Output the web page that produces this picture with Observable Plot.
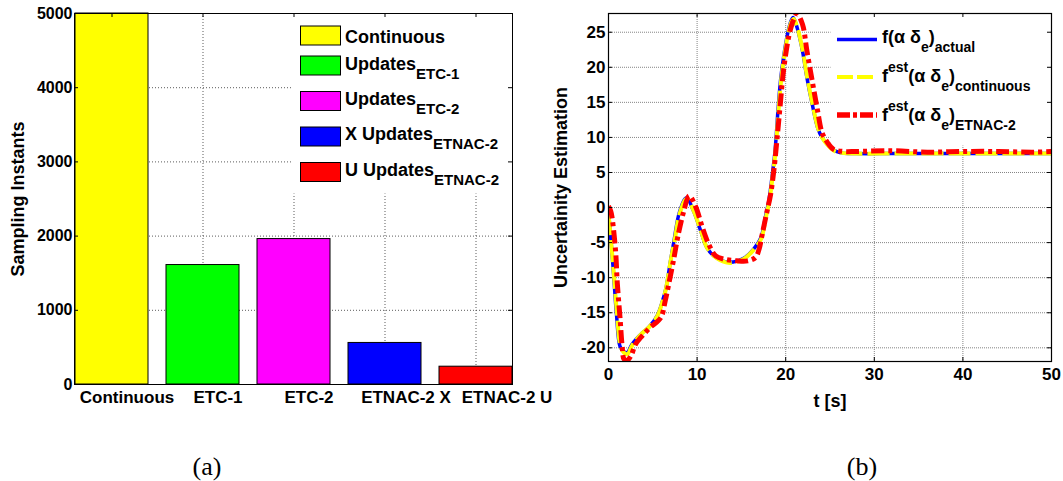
<!DOCTYPE html>
<html><head><meta charset="utf-8">
<script src="https://cdn.jsdelivr.net/npm/d3@7"></script>
<script src="https://cdn.jsdelivr.net/npm/@observablehq/plot@0.6"></script>
<style>
body{margin:0;background:#fff;}
#wrap{position:relative;width:1063px;height:481px;overflow:hidden;background:#fff;font-family:"Liberation Sans",Arial,sans-serif;}
#left{position:absolute;left:0;top:0;}
#right{position:absolute;left:540px;top:0;}
#overlay{position:absolute;left:0;top:0;pointer-events:none;}
</style></head><body>
<div id="wrap"><div id="left"></div><div id="right"></div><svg id="overlay" width="1063" height="481"></svg></div>
<script>
// ---------- (a) bar chart data ----------
const categories = ["Continuous", "ETC-1", "ETC-2", "ETNAC-2 X", "ETNAC-2 U"];
const counts = [5000, 1610, 1960, 560, 240];
const barColors = ["#ffff00", "#00ff00", "#ff00ff", "#0000ff", "#ff0000"];
const countTicks = [0, 1000, 2000, 3000, 4000, 5000];
const legendMainA = ["Continuous", "Updates", "Updates", "X Updates", "U Updates"];
const legendSubA = ["", "ETC-1", "ETC-2", "ETNAC-2", "ETNAC-2"];

// ---------- (b) line chart data ----------
const tActual = [0, 0.4, 0.6, 0.9, 1.3, 1.7, 2.1, 2.6, 3.1, 3.8, 4.6, 5.5, 6.1, 6.5, 7.0, 7.4, 8.0, 8.8, 9.6, 10.4, 11.1, 12.1, 13.6, 15.3, 16.4, 17.2, 17.7, 18.1, 18.5, 18.8, 19.15, 19.45, 19.8, 20.2, 20.6, 20.85, 21.3, 21.9, 22.4, 23.0, 23.6, 24.1, 24.7, 25.4, 26.2, 28, 32, 36, 40, 44, 48, 50];
const vActual = [-0.5, -6.6, -10, -15.2, -19.8, -20.5, -20.7, -19.6, -18.8, -17.9, -17.0, -15.4, -13.3, -11.4, -7.6, -4.7, -0.7, 1.4, -0.5, -3.3, -5.7, -7.1, -7.8, -7.2, -5.9, -4.3, -1.4, 1.0, 4.8, 8.1, 14.2, 18.5, 21.8, 24.7, 26.6, 27.1, 25.6, 22.3, 18.5, 14.7, 11.4, 10.0, 9.0, 8.2, 7.8, 7.7, 7.7, 7.7, 7.7, 7.7, 7.7, 7.7];
const tCont = [0, 0.4, 0.65, 0.95, 1.35, 1.75, 2.15, 2.65, 3.1, 3.8, 4.6, 5.5, 6.1, 6.5, 7.0, 7.45, 8.05, 8.85, 9.65, 10.45, 11.15, 12.2, 13.7, 15.3, 16.4, 17.25, 17.75, 18.15, 18.55, 18.85, 19.2, 19.5, 19.85, 20.25, 20.65, 20.9, 21.35, 21.95, 22.45, 23.05, 23.65, 24.15, 24.75, 25.45, 26.3, 28, 32, 36, 40, 44, 48, 50];
const vCont = [-0.8, -6.4, -10.2, -15.0, -19.7, -20.7, -20.9, -19.7, -18.9, -17.9, -17.0, -15.5, -13.4, -11.5, -7.7, -4.8, -0.8, 1.3, -0.6, -3.4, -5.8, -7.2, -7.9, -7.3, -6.0, -4.4, -1.5, 0.9, 4.7, 8.0, 14.0, 18.3, 21.7, 24.6, 26.5, 26.9, 25.5, 22.2, 18.4, 14.6, 11.3, 9.9, 8.9, 8.1, 7.8, 7.7, 7.7, 7.7, 7.7, 7.7, 7.7, 7.7];
const tEtnac = [0, 0.25, 0.4, 0.8, 1.0, 1.3, 1.55, 1.75, 2.1, 2.55, 3.05, 3.8, 4.7, 5.9, 6.4, 6.8, 7.4, 7.8, 8.5, 9.1, 9.8, 10.6, 11.3, 12.1, 13.0, 14.5, 15.7, 16.6, 17.0, 17.35, 17.9, 18.3, 18.7, 19.0, 19.35, 19.8, 20.4, 20.9, 21.3, 21.9, 22.4, 23.0, 23.6, 24.1, 24.7, 25.4, 26.5, 28, 32, 36, 40, 44, 48, 50];
const vEtnac = [0.2, -0.5, -1.4, -6.2, -10.9, -15.7, -19.9, -21.6, -21.8, -21.1, -19.5, -18.3, -17.1, -15.7, -13.3, -10.9, -7.1, -4.3, -0.5, 1.67, 0.24, -2.85, -5.2, -6.9, -7.35, -7.6, -7.6, -7.1, -5.9, -3.8, -0.5, 1.9, 5.7, 9.5, 14.2, 20, 24.7, 26.8, 27.6, 26.1, 22.3, 18, 13.8, 10.7, 9.3, 8.3, 8.0, 8.0, 8.1, 7.9, 8.0, 8.0, 7.9, 8.0];
const tTicks = [0, 10, 20, 30, 40, 50];
const vTicks = [-20, -15, -10, -5, 0, 5, 10, 15, 20, 25];
const lineColors = ["#0000ff", "#ffff00", "#ff0000"];

const font = "'Liberation Sans', Arial, sans-serif";

// ---------- (a) ----------
const barData = categories.map((c, i) => ({cat: c, n: counts[i], color: barColors[i]}));
const Wa = 540, Ha = 420, mLa = 74, mRa = 28, mTa = 13, mBa = 36;
const iWa = Wa - mLa - mRa, iHa = Ha - mTa - mBa;
const gridStyle = {stroke: "#333", strokeOpacity: 0.8, strokeDasharray: "1,2"};
const xLabelStyle = {tickSize: 0, tickPadding: 6, fontSize: 17, fontWeight: "bold", label: null};
const plotA = Plot.plot({
  width: Wa, height: Ha, marginLeft: mLa, marginRight: mRa, marginTop: mTa, marginBottom: mBa,
  style: {fontFamily: font, background: "transparent", color: "#000", overflow: "visible"},
  x: {domain: categories, paddingInner: 0.2, paddingOuter: 0, axis: null},
  y: {domain: [0, 5000], axis: null},
  marks: [
    Plot.gridY(countTicks.slice(1, -1), gridStyle),
    Plot.gridX(categories, gridStyle),
    Plot.frame({fill: "white", stroke: null, insetLeft: 217, insetBottom: 191, insetTop: 1, insetRight: 1}),
    Plot.barY(barData, {x: "cat", y: "n", fill: "color", stroke: "#000", strokeWidth: 1}),
    Plot.tickY(countTicks, {y: d => d, insetLeft: iWa - 4, stroke: "#000"}),
    Plot.tickY(countTicks, {y: d => d, insetRight: iWa - 4, stroke: "#000"}),
    Plot.tickX(categories, {x: d => d, insetBottom: iHa - 4, stroke: "#000"}),
    Plot.frame({stroke: "#000", strokeWidth: 1}),
    Plot.axisY(countTicks, {tickSize: 0, tickPadding: 2, fontSize: 16, fontWeight: "bold", tickFormat: d => String(d), label: null}),
    Plot.axisX(categories.slice(0, 3), {...xLabelStyle, dx: 15}),
    Plot.axisX(categories.slice(3, 4), {...xLabelStyle, dx: 21}),
    Plot.axisX(categories.slice(4), {...xLabelStyle, dx: 31}),
    Plot.text(["Sampling Instants"], {frameAnchor: "left", text: d => d, rotate: -90, dx: -56, textAnchor: "middle", fontSize: 18, fontWeight: "bold"})
  ]
});
document.getElementById("left").appendChild(plotA);

// ---------- (b) ----------
const toSeries = (ts, vs) => ts.map((t, i) => ({t, v: vs[i]}));
const sActual = toSeries(tActual, vActual);
const sCont = toSeries(tCont, vCont);
const sEtnac = toSeries(tEtnac, vEtnac);
const Wb = 523, Hb = 420, mLb = 68, mRb = 12, mTb = 13, mBb = 59;
const iWb = Wb - mLb - mRb, iHb = Hb - mTb - mBb;
const gridB = {stroke: "#777", strokeOpacity: 0.9, strokeDasharray: "1,1"};
const plotB = Plot.plot({
  width: Wb, height: Hb, marginLeft: mLb, marginRight: mRb, marginTop: mTb, marginBottom: mBb,
  style: {fontFamily: font, background: "transparent", color: "#000", overflow: "visible"},
  x: {domain: [0, 50], axis: null},
  y: {domain: [-21.95, 27.67], axis: null},
  marks: [
    Plot.gridX(tTicks.slice(1, -1), gridB),
    Plot.gridY(vTicks, gridB),
    Plot.frame({fill: "white", stroke: null, insetLeft: 222, insetBottom: 216, insetTop: 1, insetRight: 1}),
    Plot.line(sActual, {x: "t", y: "v", stroke: lineColors[0], strokeWidth: 3.5, curve: "catmull-rom", clip: true}),
    Plot.line(sCont, {x: "t", y: "v", stroke: lineColors[1], strokeWidth: 4, strokeDasharray: "22,5", strokeLinecap: "butt", curve: "catmull-rom", clip: true}),
    Plot.line(sEtnac, {x: "t", y: "v", stroke: lineColors[2], strokeWidth: 5, strokeDasharray: "13,4,4,4", strokeLinecap: "butt", curve: "catmull-rom", clip: true}),
    Plot.tickY(vTicks, {y: d => d, insetLeft: iWb - 4, stroke: "#000"}),
    Plot.tickY(vTicks, {y: d => d, insetRight: iWb - 4, stroke: "#000"}),
    Plot.tickX(tTicks, {x: d => d, insetBottom: iHb - 4, stroke: "#000"}),
    Plot.tickX(tTicks, {x: d => d, insetTop: iHb - 4, stroke: "#000"}),
    Plot.frame({stroke: "#000", strokeWidth: 1.2}),
    Plot.axisY(vTicks, {tickSize: 0, tickPadding: 3, fontSize: 17, fontWeight: "bold", tickFormat: d => String(d), label: null}),
    Plot.axisX(tTicks, {tickSize: 0, tickPadding: 6, fontSize: 17, fontWeight: "bold", tickFormat: d => String(d), label: null}),
    Plot.text(["t [s]"], {frameAnchor: "bottom", text: d => d, dy: 45, fontSize: 18, fontWeight: "bold"}),
    Plot.text(["Uncertainity Estimation"], {frameAnchor: "left", text: d => d, rotate: -90, dx: -47, textAnchor: "middle", fontSize: 18, fontWeight: "bold"})
  ]
});
document.getElementById("right").appendChild(plotB);

// ---------- legends & captions (overlay) ----------
const ov = d3.select("#overlay").style("font-family", font);
const swTop = [26, 56, 91.5, 127, 162.5];
const mainBase = [43, 70, 105, 140, 175.5];
legendMainA.forEach((m, i) => {
  ov.append("rect").attr("x", 300.5).attr("y", swTop[i]).attr("width", 40).attr("height", 19)
    .attr("fill", barColors[i]).attr("stroke", "#000").attr("stroke-width", 1);
  const t = ov.append("text").attr("x", 345).attr("y", mainBase[i]).attr("font-size", 18).attr("font-weight", "bold");
  t.append("tspan").text(m);
  if (legendSubA[i]) t.append("tspan").attr("y", mainBase[i] + 9).attr("font-size", 15).text(legendSubA[i]);
});

const legendB = [
  [["f(α δ", "m"], ["e", "sub"], [")", "m"], ["actual", "sub"]],
  [["f", "m"], ["est", "sup"], ["(α δ", "m"], ["e", "sub"], [")", "m"], ["continuous", "sub"]],
  [["f", "m"], ["est", "sup"], ["(α δ", "m"], ["e", "sub"], [")", "m"], ["ETNAC-2", "sub"]]
];
const lineY = [39.5, 77, 115];
const baseB = [43, 82, 121];
const dashB = [null, "16,4", "13,3,4,3"];
const widthB = [3.5, 4, 5.5];
legendB.forEach((parts, i) => {
  const l = ov.append("line").attr("x1", 837).attr("x2", 877).attr("y1", lineY[i]).attr("y2", lineY[i])
    .attr("stroke", lineColors[i]).attr("stroke-width", widthB[i]);
  if (dashB[i]) l.attr("stroke-dasharray", dashB[i]);
  const t = ov.append("text").attr("x", 882).attr("y", baseB[i]).attr("font-size", 18).attr("font-weight", "bold");
  parts.forEach(([s, k]) => {
    const sp = t.append("tspan").text(s);
    if (k === "sub") sp.attr("y", baseB[i] + 9).attr("font-size", 14);
    else if (k === "sup") sp.attr("y", baseB[i] - 10).attr("font-size", 14);
    else sp.attr("y", baseB[i]).attr("font-size", 18);
  });
});

const captions = ["(a)", "(b)"];
const capX = [207, 862];
captions.forEach((c, i) => {
  ov.append("text").attr("x", capX[i]).attr("y", 475).attr("text-anchor", "middle")
    .attr("font-family", "'Liberation Serif', 'Times New Roman', serif").attr("font-size", 26).text(c);
});
</script>
</body></html>
